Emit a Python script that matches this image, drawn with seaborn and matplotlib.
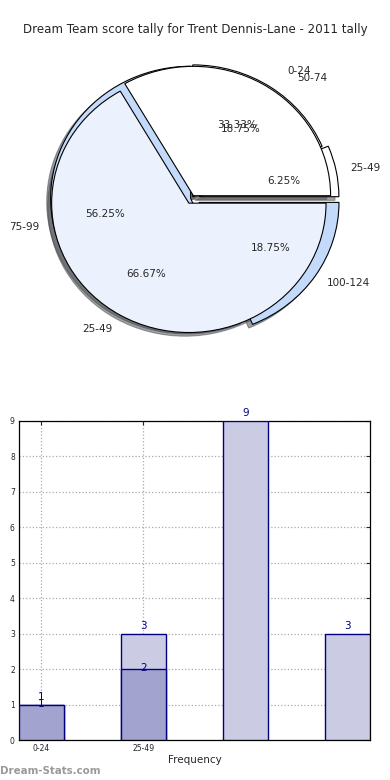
import matplotlib
matplotlib.use("Agg")
import matplotlib.pyplot as plt
import seaborn as sns
import pandas as pd

title = "Dream Team score tally for Trent Dennis-Lane - 2011 tally"

# outer pie (light series)
outer_labels = ["25-49", "0-24", "75-99", "100-124"]
outer_values = [1, 3, 9, 3]
# inner pie (dark series)
inner_labels = ["50-74", "25-49"]
inner_values = [1, 2]

# bar chart
bar_categories = ["0-24", "25-49", "75-99", "100-124"]
light_values = [1, 3, 9, 3]
dark_categories = ["0-24", "25-49"]
dark_values = [1, 2]
xtick_labels = ["0-24", "25-49"]

sns.set_style("white")
plt.rcParams["font.family"] = ["DejaVu Sans"]

fig = plt.figure(figsize=(3.9, 7.8), dpi=100)
fig.text(0.5, 1 - 30 / 780, title, ha="center", va="center", fontsize=8.6)

# ---------- pie ----------
axp = fig.add_axes([17 / 390, 1 - 363 / 780, 350 / 390, 330 / 780])
wedge_kw = dict(edgecolor="black", linewidth=0.8)
_, outer_texts, _ = axp.pie(outer_values, labels=outer_labels, autopct="%1.2f%%",
        colors=["white", "white", "#c4dafa", "#c4dafa"],
        explode=[0.05, 0.01, 0.01, 0.06], shadow=True,
        wedgeprops=wedge_kw, textprops=dict(fontsize=7.5),
        labeldistance=1.1, pctdistance=0.62)
outer_texts[1].set_position((0.68, 0.96))
_, inner_texts, _ = axp.pie(inner_values, labels=inner_labels, autopct="%1.2f%%",
        colors=["white", "#ebf1fd"], radius=0.98,
        explode=[0.02, 0.045], shadow=True,
        wedgeprops=wedge_kw, textprops=dict(fontsize=7.5),
        labeldistance=1.12, pctdistance=0.63)
inner_texts[0].set_position((0.75, 0.91))
axp.set_aspect("auto")
axp.set_xlim(-1.25, 1.25)
axp.set_ylim(-1.25, 1.25)
axp.axis("off")

# ---------- bars ----------
axb = fig.add_axes([19 / 390, 40 / 780, 351 / 390, 319 / 780])
df_light = pd.DataFrame({"cat": bar_categories, "val": light_values})
df_dark = pd.DataFrame({"cat": dark_categories, "val": dark_values})
navy = "#000080"
sns.barplot(data=df_light, x="cat", y="val", order=bar_categories, color="#cbcce4",
            saturation=1, edgecolor=navy, linewidth=1, width=0.44, ax=axb, zorder=3)
sns.barplot(data=df_dark, x="cat", y="val", order=bar_categories, color="#a3a3cf",
            saturation=1, edgecolor=navy, linewidth=1, width=0.44, ax=axb, zorder=4)
for i, v in enumerate(light_values):
    axb.text(i, v + 0.08, str(v), ha="center", va="bottom", color=navy, fontsize=7.5, zorder=6)
for i, v in enumerate(dark_values):
    axb.text(i, v - 0.12, str(v), ha="center", va="bottom", color=navy, fontsize=7.5, zorder=6)

axb.set_xlim(-0.22, 3.22)
axb.set_ylim(0, 9)
axb.set_yticks(range(10))
axb.set_xticks(range(len(xtick_labels)))
axb.set_xticklabels(xtick_labels)
axb.tick_params(axis="both", labelsize=5.5, direction="in", length=3,
                top=True, right=True, pad=3)
axb.grid(True, linestyle=":", color="#aaaaaa", linewidth=0.9, zorder=0)
axb.set_axisbelow(True)
for s in axb.spines.values():
    s.set_visible(True)
    s.set_color("black")
    s.set_linewidth(0.9)
axb.set_xlabel("Frequency", fontsize=7.5, labelpad=1)
axb.set_ylabel("")

fig.text(0.0, 1 - 771 / 780, "Dream-Stats.com", ha="left", va="center",
         fontsize=7.4, fontweight="bold", color="#9a9a9a")

fig.savefig("out.png", dpi=100)
